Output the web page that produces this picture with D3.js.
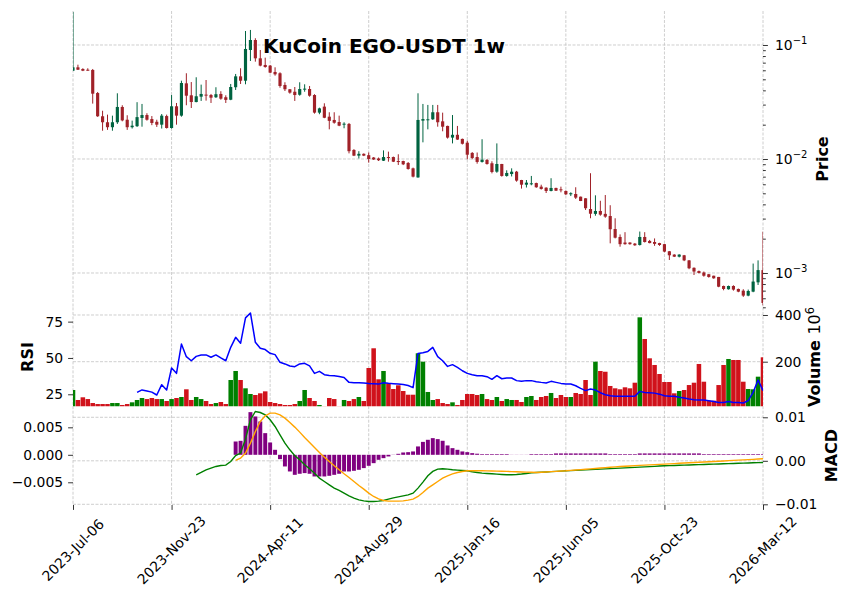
<!DOCTYPE html>
<html><head><meta charset="utf-8">
<script src="https://cdn.jsdelivr.net/npm/d3@7"></script>
<style>body{margin:0;background:#fff}svg{display:block}text{font-family:"DejaVu Sans",sans-serif;fill:#000}</style>
</head><body><svg id="c" width="850" height="599"></svg>
<script>
// ---------------- DATA (weekly candles) ----------------
const startDate = "2023-07-06";
const opens = [0.0595,0.0637,0.0616,0.0607,0.0604,0.0379,0.0237,0.0210,0.0190,0.0210,
0.0286,0.0221,0.0190,0.0194,0.0229,0.0243,0.0224,0.0212,0.0200,0.0238,
0.0187,0.0290,0.0240,0.0461,0.0362,0.0316,0.0352,0.0367,0.0364,0.0348,
0.0372,0.0348,0.0331,0.0426,0.0531,0.0486,0.0904,0.1106,0.0764,0.0668,
0.0659,0.0580,0.0565,0.0446,0.0409,0.0389,0.0366,0.0411,0.0411,0.0364,
0.0255,0.0288,0.0235,0.0220,0.0211,0.0202,0.0203,0.0120,0.0107,0.0111,
0.0108,0.0103,0.0101,0.00966,0.0104,0.0104,0.0096,0.0096,0.00923,0.00828,
0.00689,0.0217,0.0221,0.0223,0.0257,0.0214,0.0195,0.0154,0.0163,0.0150,
0.0139,0.0113,0.0104,0.00942,0.0098,0.00917,0.00774,0.00904,0.0071,0.00738,
0.00774,0.00654,0.00595,0.00607,0.00615,0.00572,0.0056,0.00524,0.00557,0.00542,
0.00524,0.0049,0.00493,0.00467,0.00452,0.00364,0.0033,0.0035,0.0033,0.00316,
0.00243,0.00207,0.00185,0.00185,0.00181,0.00176,0.00207,0.00191,0.00187,0.00183,
0.00179,0.00155,0.00145,0.00139,0.00143,0.00129,0.00111,0.00104,0.00101,0.000975,
0.000946,0.000923,0.000769,0.00072,0.000769,0.000724,0.0007,0.000633,0.000686,0.000828,
0.00106];
const highs = [0.195,0.0672,0.0625,0.0625,0.0616,0.0387,0.0265,0.0245,0.0240,0.0377,
0.0296,0.0242,0.0217,0.0315,0.0304,0.0252,0.0238,0.0221,0.0248,0.0245,
0.0364,0.0310,0.0486,0.0565,0.0473,0.0521,0.0449,0.0493,0.0372,0.0426,
0.0393,0.0362,0.0455,0.0557,0.0625,0.1327,0.1355,0.1146,0.0904,0.0774,
0.0668,0.0637,0.0576,0.0471,0.0410,0.0428,0.0471,0.0452,0.0437,0.0370,
0.0282,0.0308,0.0257,0.0257,0.0240,0.0210,0.0207,0.0122,0.0117,0.0112,
0.0114,0.0104,0.0103,0.0119,0.0116,0.0105,0.0110,0.00966,0.0094,0.0084,
0.0377,0.0304,0.0298,0.0298,0.0298,0.0255,0.0196,0.0243,0.0195,0.0151,
0.0145,0.0115,0.0114,0.0149,0.0100,0.00955,0.0137,0.00906,0.00796,0.00828,
0.00786,0.00656,0.00654,0.0071,0.0062,0.00595,0.00565,0.00678,0.0056,0.00572,
0.0053,0.0051,0.00565,0.00468,0.00453,0.0075,0.0048,0.0043,0.00483,0.00393,
0.00302,0.00218,0.00228,0.00186,0.00183,0.00231,0.00228,0.00195,0.00201,0.00184,
0.0018,0.00156,0.00146,0.00146,0.00144,0.0013,0.00112,0.00105,0.00103,0.00098,
0.000947,0.000924,0.000775,0.000775,0.00078,0.00073,0.00072,0.000715,0.00121,0.00129,
0.0023];
const lows = [0.0592,0.0604,0.0590,0.0595,0.0306,0.0234,0.0177,0.0180,0.0177,0.0203,
0.0214,0.0180,0.0185,0.0191,0.0192,0.0217,0.0198,0.0191,0.0185,0.0185,
0.0185,0.0200,0.0235,0.0296,0.0280,0.0314,0.0323,0.0325,0.0310,0.0343,
0.0331,0.0310,0.0328,0.0403,0.0455,0.0452,0.0724,0.0714,0.0650,0.0632,
0.0565,0.0538,0.0422,0.0395,0.0374,0.0323,0.0359,0.0389,0.0352,0.0250,
0.0247,0.0228,0.0182,0.0204,0.0194,0.0186,0.0112,0.0106,0.0101,0.0106,
0.0093,0.0098,0.0096,0.0096,0.00947,0.0094,0.00886,0.00884,0.00806,0.00689,
0.00685,0.0140,0.0182,0.0220,0.0192,0.0175,0.0151,0.0137,0.0147,0.0134,
0.00994,0.00994,0.0091,0.0093,0.00892,0.00748,0.00757,0.0070,0.0070,0.00703,
0.00632,0.0055,0.00562,0.00588,0.00559,0.00539,0.00503,0.0052,0.00524,0.0051,
0.00483,0.00473,0.00446,0.00427,0.00357,0.00302,0.00318,0.00318,0.00305,0.00182,
0.00201,0.0017,0.00177,0.00177,0.00173,0.00174,0.00185,0.00182,0.00173,0.00173,
0.00152,0.0013,0.00138,0.00137,0.00127,0.00108,0.00096,0.00099,0.000928,0.00091,
0.00089,0.00075,0.000705,0.000715,0.0007,0.000678,0.000617,0.000625,0.000678,0.000785,
0.00052];
const closes = [0.0637,0.0607,0.0595,0.0600,0.0374,0.0237,0.0210,0.0190,0.0210,0.0286,
0.0218,0.0190,0.0196,0.0233,0.0243,0.0221,0.0207,0.0200,0.0240,0.0187,
0.0290,0.0240,0.0464,0.0359,0.0316,0.0355,0.0372,0.0364,0.0345,0.0370,
0.0338,0.0330,0.0428,0.0531,0.0486,0.0923,0.1106,0.0764,0.0659,0.0641,
0.0572,0.0553,0.0437,0.0409,0.0382,0.0364,0.0411,0.0414,0.0359,0.0255,
0.0278,0.0230,0.0216,0.0208,0.0196,0.0204,0.0117,0.0107,0.0111,0.0107,
0.0100,0.0099,0.00975,0.0104,0.0102,0.00947,0.0094,0.00898,0.00817,0.0070,
0.0220,0.0224,0.0223,0.0257,0.0210,0.0192,0.0154,0.0163,0.0148,0.0136,
0.0109,0.0102,0.00942,0.00986,0.00904,0.00769,0.00904,0.0071,0.00754,0.00774,
0.00646,0.00595,0.0062,0.00612,0.00565,0.00546,0.00524,0.00557,0.00527,0.00535,
0.0049,0.00501,0.00458,0.00428,0.0037,0.00331,0.0035,0.00325,0.00312,0.00242,
0.00204,0.00179,0.00179,0.00179,0.00175,0.00207,0.00187,0.00183,0.0018,0.00176,
0.00154,0.00143,0.00139,0.00145,0.00129,0.0011,0.00103,0.001,0.000946,0.000923,
0.000898,0.000758,0.000724,0.000769,0.000715,0.000686,0.000633,0.000695,0.000841,0.00106,
0.000546];
// volume in millions
const volumes = [78.8,36,47.5,40,23,18.7,18.7,18.7,23,23,
14.6,18.7,26,36,44.5,40,44.5,40,40,31.7,
40,44.5,48.8,81.8,36,48.8,40,31.7,18.7,23,
27.4,18.7,121.6,160.2,121.6,86,61.7,57.4,64.6,73,
27.4,23,18.7,14.6,14.6,18.7,31.7,78.8,44.5,31.7,
14.6,8,44.5,40,8,36,31.7,40,48.8,31.7,
173,257.4,124.6,160.2,107.5,83,98.9,74.5,58.6,58.6,
236,200,70.3,36,40,23,18.7,26,14.6,36,
61.7,61.7,57.4,61.7,40,36,48.8,31.7,40,36,
36,27.4,48.8,53.1,36,48.8,53.1,66,44.5,57.4,
48.8,48.8,66,61.7,121.6,57.4,200,160.2,157,96,
86,81.8,90.3,86,110,390,297.2,214.5,185.9,147.3,
113,113,64.6,74.5,78.8,100,110,190.2,114.3,33,
33,100,185.9,211.6,207.3,207.3,114.3,83,81.8,135.8,
218.8];
// RSI starts at candle 13
const rsiStart = 13;
const rsiValues = [26.3,28,27.3,26.5,24.5,31.6,27.9,43.1,39.4,59.6,
50.9,48.1,51.1,52.1,52.1,50.5,52.1,50,48.1,57.3,
64.2,60.1,77.6,81,60.8,56.7,55.8,53.2,52.3,47,
45.9,44.5,44,45.9,46.3,44.5,39.4,40.8,38.5,38,
37.8,37.3,36.6,33.2,33,32.9,32.8,32.5,32.3,32,
33,32.6,32.3,32,31.7,31,29.6,53,53.6,54.5,
57.3,50.9,48.1,44.2,45.4,43.5,41.2,39.4,38.5,37.8,
37.8,37.1,35.3,37.8,35.7,36.2,36.2,34.4,33.9,34.4,
34.4,33.7,33.2,32.8,33.9,33.2,32.5,32.1,32.1,30.9,
29.1,27.5,28.6,27.9,26.1,24.7,24,23.6,23.6,23.6,
23.6,23.6,27,26.3,26.1,25.8,25.1,24,23.6,23.6,
22.9,22.4,21.7,21.3,21,21,20.6,20.1,19.4,19.4,
20.1,19.4,19.4,19,20.6,26.3,34.8,27.5];
// MACD line starts at candle 25
const macdStart = 25;
const macdValues = [-0.00322,-0.00268,-0.00207,-0.00169,-0.0013,-0.00107,-0.001,-0.00015,0.0012,0.00177,
0.00498,0.00943,0.01134,0.0111,0.01057,0.00943,0.00789,0.00598,0.00406,0.00253,
0.00115,0.00023,-0.00092,-0.00184,-0.00284,-0.00398,-0.00475,-0.00552,-0.00628,-0.00682,
-0.00743,-0.00805,-0.00858,-0.00897,-0.0092,-0.00935,-0.00935,-0.00927,-0.00912,-0.00881,
-0.00851,-0.00828,-0.00805,-0.00782,-0.00743,-0.00628,-0.0049,-0.00345,-0.00245,-0.00192,
-0.00184,-0.00192,-0.00207,-0.00215,-0.00222,-0.0023,-0.00253,-0.00268,-0.00284,-0.00291,
-0.00299,-0.00307,-0.00314,-0.00322,-0.0032,-0.00315,-0.00305,-0.00292,-0.00278,-0.00268,
-0.00262,-0.00256,-0.0025,-0.00243,-0.00237,-0.0023,-0.00225,-0.00219,-0.00214,-0.00208,
-0.00202,-0.00197,-0.00191,-0.00186,-0.0018,-0.00175,-0.00169,-0.00163,-0.00157,-0.00151,
-0.00145,-0.00139,-0.00133,-0.00127,-0.00121,-0.00115,-0.00111,-0.00107,-0.00104,-0.001,
-0.00096,-0.00092,-0.00088,-0.00085,-0.00081,-0.00077,-0.00073,-0.00069,-0.00065,-0.00061,
-0.00058,-0.00054,-0.0005,-0.00046,-0.00042,-0.00038];
// signal line & histogram start at candle 33
const signalStart = 33;
const signalValues = [0.00008,0.00061,0.00177,0.00406,0.00674,0.00904,0.01034,0.01096,0.01096,0.01057,
0.0098,0.0088,0.00774,0.00659,0.00536,0.00421,0.00307,0.00192,0.00084,-0.00015,
-0.00115,-0.00207,-0.00299,-0.00383,-0.00475,-0.00567,-0.00651,-0.00743,-0.0082,-0.00874,
-0.00912,-0.00927,-0.00927,-0.00927,-0.0092,-0.00904,-0.00881,-0.0082,-0.00728,-0.00628,
-0.00552,-0.00475,-0.00398,-0.00345,-0.00299,-0.00268,-0.00245,-0.0023,-0.0023,-0.0023,
-0.0023,-0.00232,-0.00235,-0.00238,-0.0024,-0.00244,-0.00248,-0.00252,-0.00256,-0.0026,
-0.00264,-0.00268,-0.00262,-0.00256,-0.0025,-0.00242,-0.00236,-0.0023,-0.00221,-0.00212,
-0.00203,-0.00194,-0.00185,-0.00176,-0.00167,-0.00157,-0.00148,-0.00139,-0.0013,-0.00124,
-0.00118,-0.00112,-0.00106,-0.001,-0.00094,-0.00088,-0.00082,-0.00076,-0.0007,-0.00064,
-0.00058,-0.00052,-0.00046,-0.0004,-0.00034,-0.00028,-0.00022,-0.00015,-0.00009,-0.00003,
0.00003,0.00009,0.00015,0.00021,0.00027,0.00033,0.0004,0.00046];
const histValues = [0.00242,0.00254,0.00527,0.00776,0.00697,0.00606,0.00394,0.00224,0.00091,-0.00079,
-0.00212,-0.00303,-0.00364,-0.00345,-0.00333,-0.00345,-0.00394,-0.00394,-0.00394,-0.00382,
-0.00364,-0.00345,-0.00303,-0.00303,-0.00291,-0.00273,-0.00242,-0.002,-0.00152,-0.00091,
-0.00061,-0.0003,0.00003,0.00018,0.00042,0.00048,0.00061,0.00152,0.00235,0.00273,
0.00303,0.00285,0.00255,0.0017,0.00121,0.00091,0.00061,0.00048,0.0003,0.0002,
0.00012,0.00012,0.00012,0.00012,0.00012,0.00012,0.00002,0.00002,0.00002,0.00002,
0.00012,0.00012,0.00012,0.00012,0.00012,0.00025,0.00025,0.00025,0.00025,0.00025,
0.00025,0.00025,0.00025,0.00025,0.00025,0.00025,0.00012,0.00012,0.00012,0.00012,
0.00012,0.00012,0.00025,0.00025,0.00025,0.00025,0.00025,0.00025,0.00025,0.00025,
0.00025,0.00025,0.00025,0.00025,0.00025,0.00012,0.00012,0.00012,0.00012,0.00012,
0.00012,0.00012,0.00012,0.00012,0.00012,0.00012,0.00012,0.00012];
const xTickIdx = [0,20,40,60,80,100,120,140];
const xTickLabels = ["2023-Jul-06","2023-Nov-23","2024-Apr-11","2024-Aug-29","2025-Jan-16","2025-Jun-05","2025-Oct-23","2026-Mar-12"];
const priceMajor = [0.001,0.01,0.1];
const priceMajorExp = ["\u22123","\u22122","\u22121"];
const volTicks = [200,400];
const rsiTicks = [25,50,75];
const histTicks = [-0.005,0,0.005];
const histTickLabels = ["\u22120.005","0.000","0.005"];
const macdTicks = [-0.01,0,0.01];
const macdTickLabels = ["\u22120.01","0.00","0.01"];
const titleText = "KuCoin EGO-USDT 1w";

// ---------------- LAYOUT ----------------
const svg = d3.select("#c");
const L = 73, R = 763;
const P1 = {t:11, b:307.4}, P2 = {t:307.4, b:406.2}, P3 = {t:406.2, b:505};
const N = closes.length;
const x = d3.scaleLinear().domain([0, N-1]).range([L, R]);
const step = x(1) - x(0);
const yP = d3.scaleLog().domain([0.000499, 0.1987]).range([P1.b, P1.t]);
const yV = d3.scaleLinear().domain([9.4, 432.5]).range([P2.b, P2.t]);
const yR = d3.scaleLinear().domain([16.8, 84.8]).range([P2.b, P2.t]);
const yH = d3.scaleLinear().domain([-0.00913, 0.00884]).range([P3.b, P3.t]);
const yM = d3.scaleLinear().domain([-0.01016, 0.01255]).range([P3.b, P3.t]);

const UP = "#006340", DOWN = "#A02128";
const VUP = "#008000", VDOWN = "#d0121b";
const GRID = "#c2c2c2";
const FS = 13.9;

const defs = svg.append("defs");
[["c1",P1],["c2",P2],["c3",P3]].forEach(([id,p]) => {
  defs.append("clipPath").attr("id", id).append("rect")
    .attr("x", L).attr("y", p.t).attr("width", R-L).attr("height", p.b-p.t);
});

// ---------------- GRID ----------------
const grid = svg.append("g").attr("stroke", GRID).attr("stroke-width", 0.8).attr("stroke-dasharray", "3,1.5").attr("fill","none");
[P1,P2,P3].forEach(p => {
  xTickIdx.forEach(i => grid.append("line").attr("x1", x(i)).attr("x2", x(i)).attr("y1", p.t).attr("y2", p.b));
});
priceMajor.forEach(v => grid.append("line").attr("x1", L).attr("x2", R).attr("y1", yP(v)).attr("y2", yP(v)));
volTicks.forEach(v => grid.append("line").attr("x1", L).attr("x2", R).attr("y1", yV(v)).attr("y2", yV(v)));
macdTicks.forEach(v => grid.append("line").attr("x1", L).attr("x2", R).attr("y1", yM(v)).attr("y2", yM(v)));

// ---------------- CANDLES ----------------
const idx = d3.range(N);
const gC = svg.append("g").attr("clip-path", "url(#c1)");
gC.selectAll("line.wick").data(idx).join("line")
  .attr("x1", i => x(i)).attr("x2", i => x(i))
  .attr("y1", i => yP(highs[i])).attr("y2", i => yP(lows[i]))
  .attr("stroke", i => closes[i] >= opens[i] ? UP : DOWN).attr("stroke-width", 1);
const bw = step * 0.64;
gC.selectAll("rect.body").data(idx).join("rect")
  .attr("x", i => x(i) - bw/2).attr("width", bw)
  .attr("y", i => yP(Math.max(opens[i], closes[i])))
  .attr("height", i => Math.max(1, Math.abs(yP(opens[i]) - yP(closes[i]))))
  .attr("fill", i => closes[i] >= opens[i] ? UP : DOWN);

// ---------------- VOLUME + RSI ----------------
const gV = svg.append("g").attr("clip-path", "url(#c2)");
const vw = step * 0.92;
gV.selectAll("rect").data(idx).join("rect")
  .attr("x", i => x(i) - vw/2).attr("width", vw)
  .attr("y", i => yV(volumes[i])).attr("height", i => Math.max(0, P2.b - yV(volumes[i]) + 2))
  .attr("fill", i => closes[i] >= opens[i] ? VUP : VDOWN);
gV.append("path").datum(rsiValues)
  .attr("fill", "none").attr("stroke", "#0000ff").attr("stroke-width", 1.5).attr("stroke-linejoin","round")
  .attr("d", d3.line().x((d,k) => x(k + rsiStart)).y(d => yR(d)));

// ---------------- MACD ----------------
const gM = svg.append("g").attr("clip-path", "url(#c3)");
const hw = step * 0.8;
gM.selectAll("rect").data(histValues).join("rect")
  .attr("x", (d,k) => x(k + signalStart) - hw/2).attr("width", hw)
  .attr("y", d => Math.min(yH(d), yH(0))).attr("height", d => Math.abs(yH(d) - yH(0)))
  .attr("fill", "#800080");
gM.append("path").datum(macdValues)
  .attr("fill","none").attr("stroke","#008000").attr("stroke-width",1.4)
  .attr("d", d3.line().x((d,k) => x(k + macdStart)).y(d => yM(d)));
gM.append("path").datum(signalValues)
  .attr("fill","none").attr("stroke","#ffa500").attr("stroke-width",1.4)
  .attr("d", d3.line().x((d,k) => x(k + signalStart)).y(d => yM(d)));

// ---------------- AXES ----------------
function styleAxis(g){ g.select(".domain").remove(); g.selectAll("text").attr("font-size", FS).attr("font-family","DejaVu Sans"); g.selectAll("line").attr("stroke","#000").attr("stroke-width",0.8); }

// price axis (right, log)
const minors = [];
[0.0001,0.001,0.01].forEach(b => { for (let m=2;m<=9;m++){ const v=b*m; if (v>=0.000499 && v<=0.1987) minors.push(v);} });
svg.append("g").attr("transform", `translate(${R},0)`)
  .call(d3.axisRight(yP).tickValues(minors).tickSize(2.8).tickFormat(""))
  .call(styleAxis);
const gPA = svg.append("g").attr("transform", `translate(${R},0)`)
  .call(d3.axisRight(yP).tickValues(priceMajor).tickSize(4.9).tickFormat(""))
  .call(styleAxis);
priceMajor.forEach((v,k) => {
  const t = svg.append("text").attr("x", R + 12).attr("y", yP(v) + 5.2).attr("font-size", FS);
  t.append("tspan").text("10");
  t.append("tspan").attr("dy", -6.2).attr("font-size", FS*0.72).text(priceMajorExp[k]);
});

// volume axis (right)
svg.append("g").attr("transform", `translate(${R},0)`)
  .call(d3.axisRight(yV).tickValues(volTicks).tickSize(4.9).tickPadding(7).tickFormat(d3.format("d")))
  .call(styleAxis);
// rsi axis (left)
svg.append("g").attr("transform", `translate(${L},0)`)
  .call(d3.axisLeft(yR).tickValues(rsiTicks).tickSize(4.9).tickPadding(5).tickFormat(d3.format("d")))
  .call(styleAxis);
// hist axis (left)
svg.append("g").attr("transform", `translate(${L},0)`)
  .call(d3.axisLeft(yH).tickValues(histTicks).tickSize(4.9).tickPadding(5).tickFormat((d,k) => histTickLabels[k]))
  .call(styleAxis);
// macd axis (right)
svg.append("g").attr("transform", `translate(${R},0)`)
  .call(d3.axisRight(yM).tickValues(macdTicks).tickSize(4.9).tickPadding(7).tickFormat((d,k) => macdTickLabels[k]))
  .call(styleAxis);

// x axis
const gX = svg.append("g").attr("transform", `translate(0,${P3.b})`)
  .call(d3.axisBottom(x).tickValues(xTickIdx).tickSize(4.9).tickFormat(""))
  .call(styleAxis);
xTickIdx.forEach((i,k) => {
  svg.append("text")
    .attr("transform", `translate(${x(i)},550) rotate(-45)`)
    .attr("text-anchor", "middle").attr("dominant-baseline", "central")
    .attr("font-size", FS).text(xTickLabels[k]);
});

// labels
svg.append("text").attr("x", 384).attr("y", 53.3).attr("text-anchor","middle")
  .attr("font-size", 20).attr("font-weight","bold").text(titleText);
svg.append("text").attr("transform","translate(828,159) rotate(-90)").attr("text-anchor","middle")
  .attr("font-size",16).attr("font-weight","bold").text("Price");
svg.append("text").attr("transform","translate(33.3,357) rotate(-90)").attr("text-anchor","middle")
  .attr("font-size",16).attr("font-weight","bold").text("RSI");
const vl = svg.append("text").attr("transform","translate(820,357) rotate(-90)").attr("text-anchor","middle").attr("font-size",16);
vl.append("tspan").attr("font-weight","bold").text("Volume  ");
vl.append("tspan").text("10");
vl.append("tspan").attr("dy",-6.5).attr("font-size",11.5).text("6");
svg.append("text").attr("transform","translate(837,455.6) rotate(-90)").attr("text-anchor","middle")
  .attr("font-size",16).attr("font-weight","bold").text("MACD");
</script></body></html>
